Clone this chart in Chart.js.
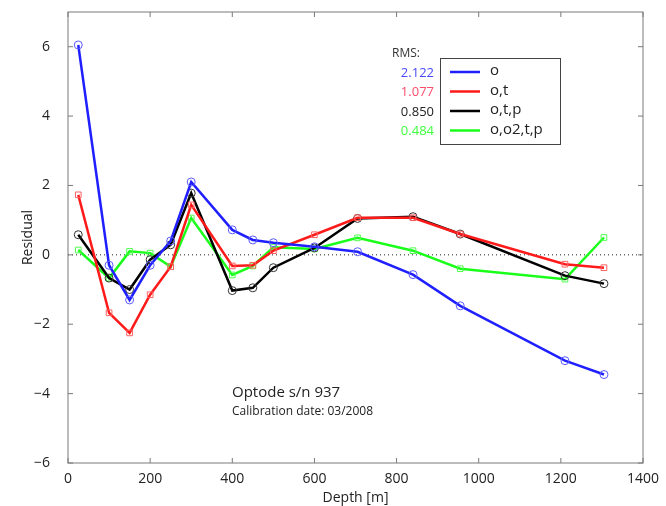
<!DOCTYPE html>
<html>
<head>
<meta charset="utf-8">
<script src="https://cdn.jsdelivr.net/npm/chart.js@4"></script>
<style>
  body { margin: 0; background: #fff; }
  #wrap { width: 666px; height: 506px; }
</style>
</head>
<body>
<div id="wrap"><canvas id="residualChart" width="666" height="506"></canvas></div>
<script>
// depths (m) and residuals for each fit
const depths = [25, 100, 150, 200, 250, 300, 400, 450, 500, 600, 705, 840, 955, 1210, 1305];
const resO    = [6.05, -0.3, -1.3, -0.3, 0.4, 2.1, 0.72, 0.43, 0.35, 0.23, 0.09, -0.57, -1.47, -3.05, -3.45];
const resOT   = [1.73, -1.67, -2.25, -1.15, -0.34, 1.44, -0.32, -0.3, 0.12, 0.58, 1.07, 1.07, 0.6, -0.27, -0.37];
const resOTP  = [0.58, -0.67, -1.0, -0.14, 0.29, 1.78, -1.03, -0.95, -0.37, 0.2, 1.05, 1.1, 0.6, -0.6, -0.83];
const resOO2  = [0.14, -0.67, 0.1, 0.05, -0.34, 1.06, -0.58, -0.32, 0.22, 0.17, 0.49, 0.12, -0.4, -0.7, 0.5];
const seriesNames = ['o', 'o,t', 'o,t,p', 'o,o2,t,p'];
const rmsValues = ['2.122', '1.077', '0.850', '0.484'];
const xTicks = [0, 200, 400, 600, 800, 1000, 1200, 1400];
const yTicks = [-6, -4, -2, 0, 2, 4, 6];

const lineColors = ['#1f1fff', '#ff1a1a', '#000000', '#1aff1a'];
const markColors = ['#5a5aff', '#ff6060', '#333333', '#50ff50'];
const rmsColors = ['#4a4aff', '#ff4a6a', '#222222', '#40ff40'];

function pts(vals) {
    return depths.map(function (d, i) { return { x: d, y: vals[i] }; });
}

const allRes = [resO, resOT, resOTP, resOO2];
const shapes = ['circle', 'rect', 'circle', 'rect'];

const datasets = allRes.map(function (vals, i) {
    return {
        label: seriesNames[i],
        data: pts(vals),
        borderColor: lineColors[i],
        borderWidth: 2.5,
        pointStyle: shapes[i],
        pointRadius: 4,
        pointBorderWidth: 1,
        pointBorderColor: markColors[i],
        pointBackgroundColor: 'rgba(0,0,0,0)',
        tension: 0
    };
});

const extras = {
    id: 'extras',
    beforeDatasetsDraw(chart) {
        const c = chart.ctx, xs = chart.scales.x, ys = chart.scales.y, a = chart.chartArea;
        // dotted zero line
        c.save();
        c.strokeStyle = '#222';
        c.lineWidth = 1;
        c.setLineDash([1, 3]);
        c.beginPath();
        c.moveTo(a.left, ys.getPixelForValue(0));
        c.lineTo(a.right, ys.getPixelForValue(0));
        c.stroke();
        c.setLineDash([]);
        // box and inward ticks
        c.strokeStyle = '#7a7a7a';
        c.strokeRect(a.left, a.top, a.right - a.left, a.bottom - a.top);
        c.beginPath();
        xTicks.forEach(function (t) {
            const px = xs.getPixelForValue(t);
            c.moveTo(px, a.bottom); c.lineTo(px, a.bottom - 5);
            c.moveTo(px, a.top); c.lineTo(px, a.top + 5);
        });
        yTicks.forEach(function (t) {
            const py = ys.getPixelForValue(t);
            c.moveTo(a.left, py); c.lineTo(a.left + 5, py);
            c.moveTo(a.right, py); c.lineTo(a.right - 5, py);
        });
        c.stroke();
        c.restore();
    },
    afterDatasetsDraw(chart) {
        const c = chart.ctx;
        c.save();
        // legend box
        const lx = 440, ly = 58, lw = 120, lh = 86;
        c.fillStyle = '#fff';
        c.fillRect(lx, ly, lw, lh);
        c.strokeStyle = '#444';
        c.lineWidth = 1;
        c.strokeRect(lx + 0.5, ly + 0.5, lw, lh);
        c.font = '15px "Open Sans", sans-serif';
        c.textBaseline = 'middle';
        seriesNames.forEach(function (n, i) {
            const yy = ly + 14 + i * 19.5;
            c.strokeStyle = lineColors[i];
            c.lineWidth = 2.5;
            c.beginPath();
            c.moveTo(lx + 10, yy); c.lineTo(lx + 40, yy);
            c.stroke();
            c.fillStyle = '#222';
            c.textAlign = 'left';
            c.fillText(n, lx + 50, yy - 1);
            c.font = '13px "Open Sans", sans-serif';
            c.fillStyle = rmsColors[i];
            c.textAlign = 'right';
            c.fillText(rmsValues[i], lx - 6, yy + 1);
            c.font = '15px "Open Sans", sans-serif';
        });
        c.font = '12px "Open Sans", sans-serif';
        c.fillStyle = '#333';
        c.textAlign = 'left';
        c.fillText('RMS:', 392, 54);
        // annotation
        c.fillStyle = '#222';
        c.font = '15px "Open Sans", sans-serif';
        c.fillText('Optode s/n 937', 232, 393);
        c.font = '12px "Open Sans", sans-serif';
        c.fillText('Calibration date: 03/2008', 232, 412);
        c.restore();
    }
};

const ctx = document.getElementById('residualChart').getContext('2d');
const residualChart = new Chart(ctx, {
    type: 'line',
    data: { datasets: datasets },
    options: {
        responsive: false,
        animation: false,
        layout: { padding: { top: 12, right: 23, left: 20, bottom: 0 } },
        scales: {
            x: {
                type: 'linear',
                min: 0,
                max: 1400,
                afterBuildTicks: function (s) { s.ticks = xTicks.map(function (v) { return { value: v }; }); },
                afterFit: function (s) { s.height = 43; s.paddingLeft = 0; s.paddingRight = 0; },
                grid: { display: false },
                border: { display: false },
                ticks: {
                    color: '#222', font: { family: 'Open Sans', size: 14 }, padding: 0, maxRotation: 0,
                    callback: function (v) { return String(v); }
                },
                title: { display: true, text: 'Depth [m]', color: '#222', font: { family: 'Open Sans', size: 14 }, padding: { top: -2, bottom: 0 } }
            },
            y: {
                min: -6,
                max: 7,
                afterBuildTicks: function (s) { s.ticks = yTicks.map(function (v) { return { value: v }; }); },
                afterFit: function (s) { s.width = 48; s.paddingTop = 0; s.paddingBottom = 0; },
                grid: { display: false },
                border: { display: false },
                ticks: {
                    color: '#222', font: { family: 'Open Sans', size: 14 }, padding: 10,
                    callback: function (v) { return String(v).replace('-', '\u2212'); }
                },
                title: { display: true, text: 'Residual', color: '#222', font: { family: 'Open Sans', size: 14 }, padding: { top: 0, bottom: 0 } }
            }
        },
        plugins: {
            legend: { display: false },
            tooltip: { enabled: false }
        }
    },
    plugins: [extras]
});
</script>
</body>
</html>
